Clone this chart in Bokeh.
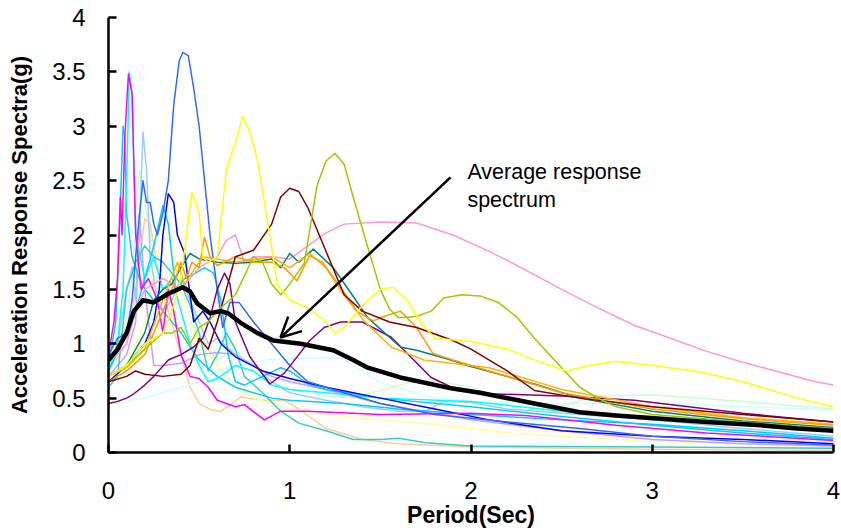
from bokeh.plotting import figure
from bokeh.models import Arrow, OpenHead, Label, FixedTicker
from bokeh.embed import file_html
from bokeh.resources import INLINE

x_ticks = [0, 1, 2, 3, 4]
y_ticks = [0, 0.5, 1, 1.5, 2, 2.5, 3, 3.5, 4]
y_tick_labels = ["0", "0.5", "1", "1.5", "2", "2.5", "3", "3.5", "4"]

pink_x = [0, 0.05, 0.1, 0.15, 0.2, 0.3, 0.4, 0.5, 0.6, 0.65, 0.7, 0.75, 0.8, 0.9, 1.0, 1.1, 1.2, 1.3, 1.5, 1.7, 1.9, 2.1, 2.3, 2.5, 2.7, 2.9, 3.1, 3.3, 3.5, 3.7, 3.9, 4.0]
pink_y = [0.85, 0.9, 1.0, 1.3, 1.5, 1.6, 1.5, 1.7, 1.8, 1.95, 2.0, 1.75, 1.8, 1.8, 1.78, 1.9, 2.02, 2.1, 2.12, 2.11, 2.0, 1.85, 1.68, 1.5, 1.33, 1.17, 1.05, 0.93, 0.83, 0.74, 0.65, 0.62]

yellow_x = [0, 0.1, 0.2, 0.3, 0.35, 0.4, 0.43, 0.46, 0.5, 0.52, 0.55, 0.6, 0.65, 0.7, 0.74, 0.78, 0.82, 0.86, 0.89, 0.93, 1.0, 1.1, 1.2, 1.25, 1.3, 1.4, 1.5, 1.57, 1.65, 1.72, 1.8, 2.0, 2.2, 2.4, 2.53, 2.65, 2.8, 3.0, 3.27, 3.5, 3.8, 4.0]
yellow_y = [0.7, 0.8, 1.0, 1.1, 1.3, 1.6, 2.0, 2.39, 2.2, 1.8, 1.75, 1.8, 2.6, 2.85, 3.09, 2.95, 2.7, 2.3, 2.0, 1.55, 1.4, 1.33, 1.2, 1.1, 1.15, 1.35, 1.5, 1.52, 1.4, 1.2, 1.05, 1.02, 0.95, 0.82, 0.75, 0.8, 0.84, 0.8, 0.74, 0.65, 0.5, 0.42]

ygreen_x = [0, 0.1, 0.2, 0.3, 0.35, 0.4, 0.45, 0.5, 0.55, 0.6, 0.7, 0.8, 0.85, 0.9, 0.95, 1.0, 1.08, 1.15, 1.2, 1.25, 1.3, 1.35, 1.43, 1.5, 1.55, 1.6, 1.7, 1.78, 1.85, 1.95, 2.05, 2.15, 2.25, 2.35, 2.45, 2.6, 2.7, 2.8, 3.0, 3.5, 4.0]
ygreen_y = [0.7, 0.8, 0.95, 1.1, 1.1, 1.15, 1.0, 1.15, 1.2, 1.3, 1.45, 1.8, 1.75, 1.55, 1.45, 1.55, 1.74, 2.45, 2.68, 2.75, 2.65, 2.35, 1.89, 1.5, 1.32, 1.24, 1.25, 1.3, 1.42, 1.45, 1.44, 1.38, 1.25, 1.05, 0.87, 0.6, 0.5, 0.42, 0.35, 0.28, 0.22]

maroon_x = [0, 0.1, 0.15, 0.2, 0.3, 0.4, 0.45, 0.5, 0.55, 0.6, 0.65, 0.7, 0.8, 0.9, 0.95, 1.0, 1.05, 1.1, 1.2, 1.3, 1.4, 1.55, 1.7, 1.9, 2.0, 2.2, 2.35, 2.6, 3.0, 3.5, 4.0]
maroon_y = [0.65, 0.7, 0.75, 0.72, 0.7, 0.72, 0.8, 1.05, 0.95, 1.2, 1.5, 1.8, 1.86, 2.1, 2.35, 2.43, 2.4, 2.25, 1.85, 1.45, 1.3, 1.2, 1.15, 1.03, 0.95, 0.75, 0.57, 0.5, 0.42, 0.35, 0.28]

cornflower_x = [0, 0.05, 0.1, 0.13, 0.16, 0.19, 0.21, 0.23, 0.25, 0.27, 0.3, 0.33, 0.36, 0.39, 0.41, 0.44, 0.47, 0.5, 0.53, 0.56, 0.6, 0.63, 0.67, 0.72, 0.8, 0.9, 1.0, 1.1, 1.3, 1.5, 1.8, 2.2, 2.6, 3.0, 3.5, 4.0]
cornflower_y = [0.9, 1.05, 1.1, 1.4, 2.0, 2.5, 2.3, 2.3, 2.1, 2.0, 2.2, 2.5, 3.2, 3.6, 3.68, 3.65, 3.35, 3.0, 2.5, 2.0, 1.5, 1.15, 1.38, 1.38, 1.2, 1.0, 0.8, 0.65, 0.55, 0.45, 0.35, 0.28, 0.22, 0.15, 0.1, 0.07]

blue_x = [0, 0.1, 0.2, 0.25, 0.28, 0.3, 0.33, 0.36, 0.38, 0.42, 0.47, 0.52, 0.56, 0.62, 0.7, 0.85, 1.0, 1.2, 1.5, 1.8, 2.1, 2.5, 3.0, 3.5, 4.0]
blue_y = [0.65, 0.8, 1.0, 1.2, 1.5, 2.0, 2.38, 2.3, 2.0, 1.83, 1.2, 1.3, 1.2, 1.0, 0.88, 0.75, 0.68, 0.6, 0.5, 0.4, 0.3, 0.2, 0.15, 0.12, 0.08]

magenta_x = [0, 0.03, 0.05, 0.065, 0.075, 0.09, 0.11, 0.13, 0.15, 0.18, 0.22, 0.27, 0.3, 0.33, 0.36, 0.4, 0.45, 0.5, 0.55, 0.6, 0.7, 0.75, 0.86, 0.95, 1.1, 1.5, 2.0, 2.3, 2.8, 3.3, 4.0]
magenta_y = [0.9, 1.2, 1.6, 2.35, 2.0, 2.9, 3.48, 3.3, 2.0, 1.5, 1.6, 1.4, 1.1, 1.5, 1.3, 0.9, 0.7, 0.68, 0.6, 0.48, 0.42, 0.44, 0.3, 0.38, 0.38, 0.35, 0.36, 0.34, 0.25, 0.18, 0.11]

cyan_x = [0, 0.05, 0.08, 0.1, 0.115, 0.13, 0.15, 0.2, 0.25, 0.3, 0.35, 0.4, 0.45, 0.5, 0.55, 0.6, 0.7, 0.8, 0.9, 1.0, 1.2, 1.5, 2.0, 2.5, 3.0, 3.5, 4.0]
cyan_y = [0.75, 1.0, 1.5, 2.5, 3.5, 3.3, 2.0, 1.6, 1.8, 1.5, 1.6, 1.3, 1.0, 0.8, 0.65, 0.68, 0.8, 0.75, 0.62, 0.58, 0.55, 0.5, 0.47, 0.38, 0.3, 0.25, 0.19]

skyblue_x = [0, 0.04, 0.06, 0.08, 0.09, 0.1, 0.13, 0.17, 0.2, 0.25, 0.3, 0.4, 0.5, 0.6, 0.7, 0.8, 0.9, 1.0, 1.3, 1.6, 2.0, 2.5, 3.0, 3.5, 4.0]
skyblue_y = [0.8, 1.2, 2.0, 3.0, 2.9, 2.2, 1.8, 1.6, 1.5, 1.4, 1.3, 1.1, 0.85, 0.7, 0.6, 0.55, 0.5, 0.48, 0.45, 0.4, 0.35, 0.3, 0.26, 0.2, 0.13]

teal_x = [0, 0.1, 0.2, 0.25, 0.3, 0.35, 0.4, 0.45, 0.5, 0.6, 0.7, 0.8, 0.9, 0.95, 1.0, 1.05, 1.13, 1.24, 1.34, 1.43, 1.61, 1.7, 1.89, 1.98, 2.35, 2.6, 3.0, 3.5, 4.0]
teal_y = [0.7, 0.8, 1.1, 1.4, 1.5, 1.55, 1.7, 1.83, 1.78, 1.75, 1.74, 1.75, 1.78, 1.7, 1.83, 1.75, 1.87, 1.7, 1.46, 1.24, 0.97, 0.94, 0.85, 0.8, 0.63, 0.5, 0.38, 0.29, 0.23]

orange_x = [0, 0.1, 0.2, 0.25, 0.3, 0.35, 0.4, 0.43, 0.46, 0.5, 0.53, 0.56, 0.6, 0.7, 0.8, 0.9, 0.97, 1.04, 1.11, 1.18, 1.28, 1.37, 1.46, 1.52, 1.61, 1.7, 1.79, 1.9, 2.1, 2.5, 3.0, 3.5, 4.0]
orange_y = [0.65, 0.75, 0.9, 1.1, 1.3, 1.5, 1.75, 1.6, 1.75, 1.7, 1.98, 1.8, 1.72, 1.8, 1.75, 1.75, 1.7, 1.58, 1.81, 1.75, 1.52, 1.3, 1.21, 1.25, 1.3, 1.15, 0.91, 0.85, 0.75, 0.55, 0.4, 0.31, 0.25]

gold_x = [0, 0.1, 0.2, 0.3, 0.38, 0.42, 0.48, 0.52, 0.6, 0.7, 0.8, 0.9, 1.0, 1.11, 1.2, 1.28, 1.41, 1.56, 1.74, 2.1, 2.5, 3.0, 3.5, 4.0]
gold_y = [0.7, 0.78, 0.95, 1.4, 1.75, 1.55, 1.7, 1.8, 1.78, 1.75, 1.77, 1.8, 1.7, 1.83, 1.7, 1.49, 1.21, 0.97, 0.85, 0.78, 0.58, 0.42, 0.32, 0.26]

purple_x = [0, 0.05, 0.1, 0.14, 0.2, 0.25, 0.33, 0.4, 0.47, 0.52, 0.56, 0.6, 0.64, 0.67, 0.7, 0.78, 0.89, 0.97, 1.05, 1.11, 1.19, 1.28, 1.4, 1.56, 1.78, 1.93, 2.1, 2.5, 2.9, 3.05, 3.5, 4.0]
purple_y = [0.45, 0.47, 0.5, 0.54, 0.62, 0.7, 0.85, 0.9, 0.97, 1.05, 1.24, 1.5, 1.65, 1.55, 1.2, 0.88, 0.63, 0.73, 0.9, 1.03, 1.15, 1.2, 1.2, 1.06, 0.69, 0.57, 0.54, 0.52, 0.48, 0.45, 0.36, 0.28]

lightblue_x = [0, 0.05, 0.1, 0.13, 0.15, 0.17, 0.19, 0.21, 0.23, 0.26, 0.3, 0.35, 0.4, 0.45, 0.5, 0.55, 0.6, 0.7, 0.8, 0.9, 1.0, 1.2, 1.4, 1.6, 1.75, 1.85, 2.0, 2.2, 2.6, 3.0, 3.5, 4.0]
lightblue_y = [0.8, 1.0, 1.5, 1.7, 1.4, 2.0, 2.95, 2.6, 1.8, 1.5, 1.3, 1.4, 1.6, 1.4, 1.2, 1.0, 1.05, 0.9, 0.8, 0.65, 0.55, 0.48, 0.42, 0.38, 0.38, 0.47, 0.46, 0.4, 0.35, 0.3, 0.22, 0.15]

palegreen_x = [0, 0.1, 0.15, 0.17, 0.2, 0.25, 0.3, 0.35, 0.4, 0.45, 0.5, 0.55, 0.6, 0.7, 0.8, 0.9, 1.0, 1.2, 1.35, 1.5, 1.65, 1.8, 2.0, 2.2, 2.4, 2.55, 2.7, 3.0, 3.5, 4.0]
palegreen_y = [0.75, 1.2, 2.0, 2.6, 2.3, 1.8, 1.5, 1.3, 1.1, 1.2, 1.1, 0.95, 0.85, 0.95, 0.75, 0.65, 0.58, 0.52, 0.5, 0.57, 0.64, 0.66, 0.6, 0.48, 0.39, 0.45, 0.52, 0.53, 0.47, 0.4]

lightcyan_x = [0, 0.1, 0.2, 0.3, 0.4, 0.5, 0.6, 0.7, 0.8, 0.9, 1.0, 1.1, 1.28, 1.4, 1.5, 1.61, 1.8, 2.0, 2.3, 2.6, 3.0, 3.4, 4.0]
lightcyan_y = [0.45, 0.47, 0.5, 0.55, 0.6, 0.65, 0.75, 0.8, 0.83, 0.86, 0.86, 0.87, 0.87, 0.75, 0.64, 0.59, 0.5, 0.47, 0.45, 0.45, 0.45, 0.43, 0.39]

lavender_x = [0, 0.1, 0.15, 0.17, 0.2, 0.25, 0.3, 0.4, 0.5, 0.6, 0.7, 0.8, 0.9, 1.0, 1.2, 1.5, 2.0, 2.5, 3.0, 3.5, 4.0]
lavender_y = [0.7, 0.9, 1.2, 2.2, 1.5, 0.8, 0.8, 0.82, 0.9, 0.92, 0.9, 0.8, 0.7, 0.65, 0.58, 0.45, 0.3, 0.2, 0.12, 0.08, 0.06]

peach_x = [0, 0.1, 0.15, 0.2, 0.23, 0.28, 0.33, 0.4, 0.45, 0.5, 0.57, 0.62, 0.73, 0.85, 0.97, 1.05, 1.2, 1.4, 1.6, 2.0, 3.0, 4.0]
peach_y = [0.75, 1.0, 1.5, 2.15, 2.1, 1.6, 1.3, 0.9, 0.6, 0.45, 0.39, 0.38, 0.51, 0.48, 0.48, 0.4, 0.22, 0.12, 0.08, 0.05, 0.03, 0.02]

turquoise_x = [0, 0.05, 0.1, 0.15, 0.2, 0.25, 0.3, 0.4, 0.45, 0.5, 0.55, 0.6, 0.65, 0.7, 0.75, 0.85, 0.95, 1.05, 1.2, 1.35, 1.5, 1.6, 1.75, 2.0, 3.0, 4.0]
turquoise_y = [0.6, 0.7, 1.5, 1.75, 1.9, 1.8, 1.75, 1.55, 1.35, 1.1, 0.75, 0.9, 1.1, 0.95, 0.7, 0.55, 0.38, 0.27, 0.2, 0.12, 0.12, 0.13, 0.09, 0.06, 0.05, 0.04]

deepsky_x = [0, 0.1, 0.15, 0.2, 0.25, 0.3, 0.33, 0.37, 0.42, 0.47, 0.53, 0.58, 0.62, 0.66, 0.7, 0.75, 0.85, 0.95, 1.0, 1.1, 1.2, 1.5, 2.0, 2.5, 3.0, 3.5, 4.0]
deepsky_y = [0.75, 1.1, 1.3, 1.6, 1.9, 2.27, 2.1, 1.5, 1.6, 1.64, 1.7, 1.65, 1.4, 0.9, 0.65, 0.62, 0.7, 0.78, 0.75, 0.63, 0.58, 0.5, 0.42, 0.33, 0.25, 0.18, 0.12]

lightyellow_x = [0, 0.1, 0.2, 0.3, 0.35, 0.4, 0.5, 0.6, 0.7, 0.8, 0.9, 1.0, 1.2, 1.5, 1.8, 2.2, 3.0, 4.0]
lightyellow_y = [0.7, 0.8, 1.2, 2.05, 1.9, 1.5, 1.0, 0.8, 0.6, 0.5, 0.45, 0.4, 0.35, 0.3, 0.26, 0.18, 0.1, 0.06]

average_x = [0, 0.05, 0.1, 0.14, 0.19, 0.25, 0.33, 0.41, 0.45, 0.49, 0.56, 0.62, 0.66, 0.74, 0.82, 0.91, 1.06, 1.24, 1.35, 1.43, 1.61, 1.89, 2.05, 2.35, 2.6, 2.8, 3.05, 3.3, 3.6, 3.8, 4.0]
average_y = [0.85, 0.95, 1.1, 1.3, 1.4, 1.38, 1.46, 1.52, 1.48, 1.37, 1.28, 1.3, 1.28, 1.18, 1.1, 1.03, 1.0, 0.94, 0.85, 0.78, 0.69, 0.59, 0.55, 0.45, 0.37, 0.34, 0.31, 0.28, 0.25, 0.22, 0.2]

annotation_lines = ["Average response", "spectrum"]

series = [
    (peach_x, peach_y, "#FFCC99"),
    (lightyellow_x, lightyellow_y, "#FFFF99"),
    (lightcyan_x, lightcyan_y, "#CCFFFF"),
    (palegreen_x, palegreen_y, "#CCFFCC"),
    (lavender_x, lavender_y, "#CC99FF"),
    (lightblue_x, lightblue_y, "#99CCFF"),
    (turquoise_x, turquoise_y, "#33CCCC"),
    (skyblue_x, skyblue_y, "#00CCFF"),
    (cyan_x, cyan_y, "#00FFFF"),
    (deepsky_x, deepsky_y, "#00CCFF"),
    (blue_x, blue_y, "#0000FF"),
    (cornflower_x, cornflower_y, "#3366FF"),
    (magenta_x, magenta_y, "#FF00FF"),
    (purple_x, purple_y, "#800080"),
    (pink_x, pink_y, "#FF99CC"),
    (teal_x, teal_y, "#008080"),
    (gold_x, gold_y, "#FFB300"),
    (orange_x, orange_y, "#FF9900"),
    (maroon_x, maroon_y, "#800000"),
    (ygreen_x, ygreen_y, "#99CC00"),
    (yellow_x, yellow_y, "#FFFF00"),
]

p = figure(width=840, height=530, x_range=(0, 4), y_range=(0, 4),
           output_backend="svg", toolbar_location=None,
           min_border_left=108, min_border_right=7, min_border_top=17, min_border_bottom=0)
p.outline_line_color = None
p.xgrid.visible = False
p.ygrid.visible = False
p.background_fill_color = "white"

for xs, ys, c in series:
    p.line(xs, ys, line_color=c, line_width=1.5, line_join="round")
p.line(average_x, average_y, line_color="black", line_width=4.5, line_join="round")

for ax in (p.xaxis[0], p.yaxis[0]):
    ax.axis_line_width = 2.5
    ax.axis_line_color = "black"
    ax.major_tick_line_width = 2.5
    ax.major_tick_in = 8
    ax.major_tick_out = 0
    ax.minor_tick_line_color = None
    ax.major_label_text_font = "Liberation Sans"
    ax.major_label_text_font_size = "24px"
    ax.major_label_text_color = "black"
    ax.axis_label_text_font = "Liberation Sans"
    ax.axis_label_text_font_style = "bold"
    ax.axis_label_text_color = "black"

p.xaxis[0].axis_label_text_font_size = "23px"
p.yaxis[0].axis_label_text_font_size = "22px"
p.xaxis[0].ticker = FixedTicker(ticks=x_ticks)
p.yaxis[0].ticker = FixedTicker(ticks=y_ticks)
p.yaxis[0].major_label_overrides = {t: s for t, s in zip(y_ticks, y_tick_labels)}
p.xaxis[0].axis_label = "Period(Sec)"
p.yaxis[0].axis_label = "Acceleration Response Spectra(g)"
p.xaxis[0].major_label_standoff = 29
p.xaxis[0].axis_label_standoff = 0
p.yaxis[0].major_label_standoff = 23
p.yaxis[0].axis_label_standoff = 17

p.add_layout(Arrow(end=OpenHead(size=20, line_width=2.5, line_color="black"),
                   x_start=1.887, y_start=2.53, x_end=0.949, y_end=1.057,
                   line_width=2.5, line_color="black"))
p.add_layout(Label(x=1.98, y=2.575, text=annotation_lines[0], text_font="Liberation Sans",
                   text_font_size="21.5px", text_color="black", text_baseline="alphabetic"))
p.add_layout(Label(x=1.98, y=2.325, text=annotation_lines[1], text_font="Liberation Sans",
                   text_font_size="21.5px", text_color="black", text_baseline="alphabetic"))

open("out.html", "w").write(file_html(p, INLINE))
